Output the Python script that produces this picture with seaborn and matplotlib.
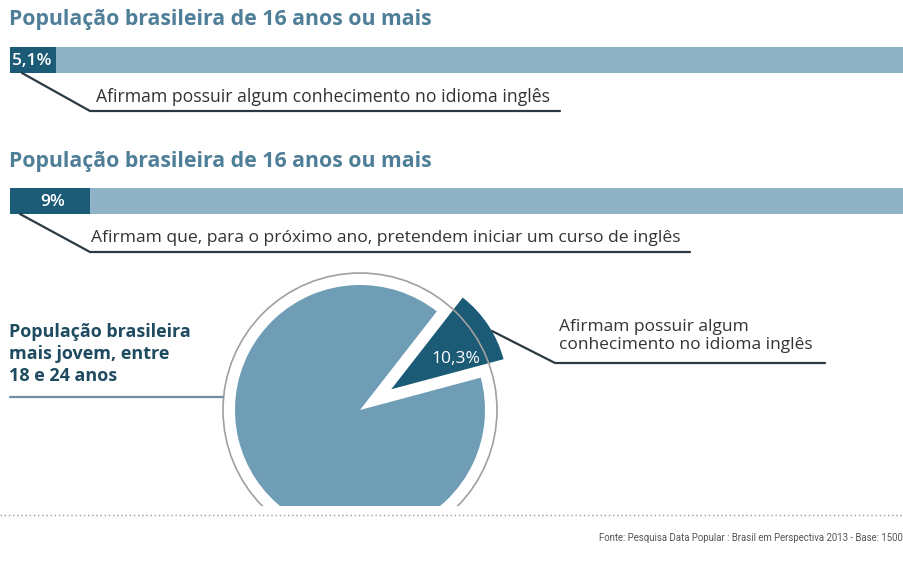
import numpy as np
import matplotlib
matplotlib.use("Agg")
import matplotlib.pyplot as plt
import seaborn as sns
import pandas as pd
from matplotlib.patches import Circle

# ---- data ----
bar_titles = ["População brasileira de 16 anos ou mais",
              "População brasileira de 16 anos ou mais"]
bar_values = [5.1, 9.0]
bar_labels = ["5,1%", "9%"]
bar_notes = ["Afirmam possuir algum conhecimento no idioma inglês",
             "Afirmam que, para o próximo ano, pretendem iniciar um curso de inglês"]
pie_values = [10.3, 89.7]
pie_label = "10,3%"
pie_note = "Afirmam possuir algum\nconhecimento no idioma inglês"
pie_group = "População brasileira\nmais jovem, entre\n18 e 24 anos"
source = "Fonte: Pesquisa Data Popular : Brasil em Perspectiva 2013 - Base: 1500"

sns.set_theme(style="white")
plt.rcParams['font.family'] = ['Open Sans', 'DejaVu Sans']

DARK = "#1b5b76"
LIGHT = "#8fb2c6"
MID = "#6f9db6"
TITLE = "#4f7f98"
TXT = "#333333"
LINE = "#2b3a42"

W, H = 904, 570
fig = plt.figure(figsize=(W / 100, H / 100), dpi=100)
fig.patch.set_facecolor("white")


def rect(x0, y0, x1, y1):
    return [x0 / W, 1 - y1 / H, (x1 - x0) / W, (y1 - y0) / H]


# ---- bars ----
bar_rows = [(47, 73), (188, 214)]
for i, (y0, y1) in enumerate(bar_rows):
    ax = fig.add_axes(rect(10, y0, W, y1))
    df = pd.DataFrame({"cat": ["a"], "total": [100.0], "val": [bar_values[i]]})
    sns.barplot(data=df, x="total", y="cat", orient="h", color=LIGHT,
                width=1, errorbar=None, ax=ax, saturation=1, linewidth=0)
    sns.barplot(data=df, x="val", y="cat", orient="h", color=DARK,
                width=1, errorbar=None, ax=ax, saturation=1, linewidth=0)
    ax.set_xlim(0, 100)
    ax.set_ylim(0.5, -0.5)
    ax.axis("off")
    if i == 0:
        ax.text(0.2, 0.02, bar_labels[i], color="white", fontsize=12.5,
                ha="left", va="center", fontweight="semibold")
    else:
        ax.text(bar_values[i] / 2 + 0.25, 0.02, bar_labels[i], color="white",
                fontsize=12.5, ha="center", va="center", fontweight="semibold")

# ---- pie ----
R = 125.0
cx, cy = 360, 410
px0, px1, py0, py1 = 215, 505, 268, 506
axp = fig.add_axes(rect(px0, py0, px1, py1))
wedges, _ = axp.pie(pie_values, colors=[DARK, MID], startangle=15,
                    counterclock=True, explode=[0.3, 0], radius=1,
                    wedgeprops=dict(linewidth=0))
wedges[0].set_radius(0.93)
for w in wedges:
    w.set_clip_on(True)
axp.add_patch(Circle((0, 0), 137 / R, fill=False, edgecolor="#a0a0a0", lw=1.2))
mid = np.deg2rad(15 + pie_values[0] / sum(pie_values) * 360 / 2)
axp.text(0.92 * np.cos(mid), 0.92 * np.sin(mid) - 0.1, pie_label, color="white",
         fontsize=12.5, ha="center", va="center")
axp.set_aspect("auto")
axp.set_xlim((px0 - cx) / R, (px1 - cx) / R)
axp.set_ylim((cy - py1) / R, (cy - py0) / R)
axp.axis("off")

# ---- overlay for text & callouts ----
ov = fig.add_axes([0, 0, 1, 1], zorder=5)
ov.set_xlim(0, W)
ov.set_ylim(H, 0)
ov.axis("off")
ov.patch.set_alpha(0)

ov.text(9, 20, bar_titles[0], color=TITLE, fontsize=15.3, fontweight="bold",
        ha="left", va="center")
ov.text(9, 162, bar_titles[1], color=TITLE, fontsize=15.3, fontweight="bold",
        ha="left", va="center")

ov.plot([22, 90, 560], [73, 111, 111], color=LINE, lw=1.6, solid_joinstyle="miter")
ov.text(96, 97, bar_notes[0], color=TXT, fontsize=12.7, ha="left", va="center")

ov.plot([20, 90, 690], [214, 252, 252], color=LINE, lw=1.6, solid_joinstyle="miter")
ov.text(91, 238, bar_notes[1], color=TXT, fontsize=12.6, ha="left", va="center")

ov.plot([492, 555, 825], [331, 363, 363], color=LINE, lw=1.6)
ov.text(559, 336, pie_note, color=TXT, fontsize=12.5, ha="left", va="center",
        linespacing=1.15)

ov.text(9, 354, pie_group, color="#1f4b60", fontsize=13, fontweight="bold",
        ha="left", va="center", linespacing=1.3)
ov.plot([10, 223], [397, 397], color="#6f8f9f", lw=1.6)

ov.plot([0, W], [515, 515], color="#9a9a9a", lw=1, linestyle=(0, (1, 2)))
ov.text(903, 538, source, color="#555555", fontsize=6.9, ha="right", va="center",
        family=['Roboto', 'DejaVu Sans'])

fig.savefig("out.png", dpi=100, facecolor="white")
